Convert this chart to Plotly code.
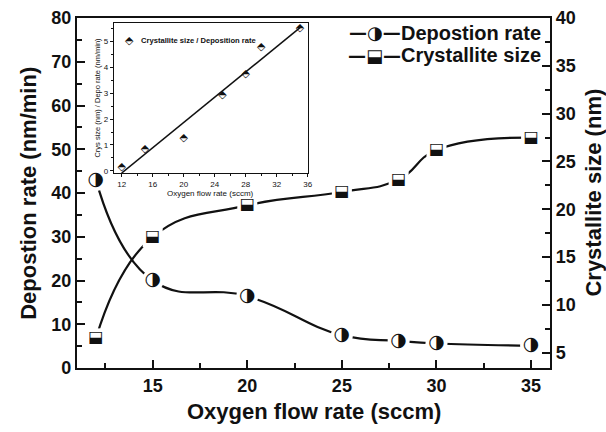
import numpy as np
import plotly.graph_objects as go

# ---- data ----
oxygen_flow = [12, 15, 20, 25, 28, 30, 35]
deposition_rate = [43.0, 20.0, 16.4, 7.5, 6.2, 5.6, 5.1]
crystallite_size = [6.5, 17.1, 20.4, 21.8, 23.1, 26.2, 27.5]
inset_ratio = [0.15, 0.85, 1.25, 2.9, 3.72, 4.78, 5.5]

x_ticks = [15, 20, 25, 30, 35]
inset_x_ticks = [12, 16, 20, 24, 28, 32, 36]

FONT = "Liberation Sans"
BLACK = "#111111"

fig = go.Figure()

fig.add_trace(go.Scatter(x=oxygen_flow, y=deposition_rate, mode="lines",
                         line=dict(color=BLACK, width=2.2, shape="spline", smoothing=1.3),
                         yaxis="y", xaxis="x", showlegend=False, hoverinfo="skip"))
fig.add_trace(go.Scatter(x=oxygen_flow, y=crystallite_size, mode="lines",
                         line=dict(color=BLACK, width=2.2, shape="spline", smoothing=1.3),
                         yaxis="y2", xaxis="x", showlegend=False, hoverinfo="skip"))
fig.add_trace(go.Scatter(x=oxygen_flow, y=deposition_rate, mode="markers",
                         marker=dict(symbol="circle", size=22, color="white"),
                         yaxis="y", xaxis="x", showlegend=False, hoverinfo="skip"))
fig.add_trace(go.Scatter(x=oxygen_flow, y=crystallite_size, mode="markers",
                         marker=dict(symbol="square", size=20, color="white"),
                         yaxis="y2", xaxis="x", showlegend=False, hoverinfo="skip"))
fig.add_trace(go.Scatter(x=oxygen_flow, y=deposition_rate, mode="text",
                         text=["\u25D1"] * len(oxygen_flow), textposition="middle center",
                         textfont=dict(family="DejaVu Sans", size=19, color=BLACK),
                         yaxis="y", xaxis="x", showlegend=False))
fig.add_trace(go.Scatter(x=oxygen_flow, y=crystallite_size, mode="text",
                         text=["\u2B13"] * len(oxygen_flow), textposition="middle center",
                         textfont=dict(family="DejaVu Sans", size=16, color=BLACK),
                         yaxis="y2", xaxis="x", showlegend=False))

# inset: linear fit and points
coef = np.polyfit(oxygen_flow, inset_ratio, 1)
fit_x = np.array([min(oxygen_flow), max(oxygen_flow)], dtype=float)
fit_y = np.polyval(coef, fit_x)
fig.add_trace(go.Scatter(x=fit_x, y=fit_y, mode="lines", line=dict(color=BLACK, width=1.5),
                         xaxis="x3", yaxis="y3", showlegend=False, hoverinfo="skip"))
fig.add_trace(go.Scatter(x=oxygen_flow, y=inset_ratio, mode="text",
                         text=["\u2B18"] * len(oxygen_flow), textposition="middle center",
                         textfont=dict(family="DejaVu Sans", size=11, color=BLACK),
                         xaxis="x3", yaxis="y3", showlegend=False))

tickfont = dict(family=FONT, size=18, color=BLACK, weight="bold")
titlefont = dict(family=FONT, size=22, color=BLACK, weight="bold")
small = dict(family=FONT, size=8, color=BLACK)

W, H = 606, 432
ml, mr, mt, mb = 77, 56, 18, 64

fig.update_layout(
    width=W, height=H, margin=dict(l=ml, r=mr, t=mt, b=mb, autoexpand=False),
    paper_bgcolor="white", plot_bgcolor="white",
    xaxis=dict(range=[11, 36], tickvals=x_ticks, ticks="inside", ticklen=8, tickwidth=2,
               tickcolor=BLACK, showline=True, linewidth=2.2, linecolor=BLACK, mirror=True,
               showgrid=False, zeroline=False, tickfont=tickfont, automargin=False,
               minor=dict(dtick=2.5, tick0=0, ticks="inside", ticklen=5, tickwidth=2, tickcolor=BLACK)),
    yaxis=dict(range=[0, 80], dtick=10, tick0=0, ticks="inside", ticklen=8, tickwidth=2,
               tickcolor=BLACK, showline=True, linewidth=2.2, linecolor=BLACK,
               showgrid=False, zeroline=False, tickfont=tickfont, automargin=False,
               minor=dict(dtick=5, tick0=0, ticks="inside", ticklen=5, tickwidth=2, tickcolor=BLACK)),
    yaxis2=dict(range=[3.4, 40], dtick=5, tick0=0, ticks="inside", ticklen=8, tickwidth=2,
                tickcolor=BLACK, showline=True, linewidth=2.2, linecolor=BLACK,
                overlaying="y", side="right", anchor="x", automargin=False,
                showgrid=False, zeroline=False, tickfont=tickfont,
                minor=dict(dtick=2.5, tick0=0, ticks="inside", ticklen=5, tickwidth=2, tickcolor=BLACK)),
    xaxis3=dict(domain=[0.078, 0.488], anchor="y3", range=[11, 36], tickvals=inset_x_ticks,
                ticks="outside", ticklen=3, tickwidth=1, tickcolor=BLACK, ticklabelstandoff=0,
                showline=True, linewidth=1.2, linecolor=BLACK, mirror=True,
                showgrid=False, zeroline=False, tickfont=small, automargin=False,
                minor=dict(dtick=2, tick0=0, ticks="outside", ticklen=2, tickwidth=1, tickcolor=BLACK)),
    yaxis3=dict(domain=[0.557, 0.986], anchor="x3", range=[-0.08, 5.7], dtick=1, tick0=0,
                ticks="outside", ticklen=3, tickwidth=1, tickcolor=BLACK,
                showline=True, linewidth=1.2, linecolor=BLACK, mirror=True,
                showgrid=False, zeroline=False, tickfont=small, automargin=False,
                minor=dict(dtick=0.5, tick0=0, ticks="outside", ticklen=2, tickwidth=1, tickcolor=BLACK),
                title=dict(text="Crys size (nm) / Depo rate (nm/min)", font=dict(family=FONT, size=7.5, color=BLACK), standoff=2)),
    showlegend=False,
)

# axis titles as annotations (fixed positions)
fig.add_annotation(xref="paper", yref="paper", x=0.5, y=-0.125, xanchor="center", yanchor="middle",
                   text="<b>Oxygen flow rate (sccm)</b>", showarrow=False, font=titlefont)
fig.add_annotation(xref="paper", yref="paper", x=-0.104, y=0.5, xanchor="center", yanchor="middle",
                   text="<b>Depostion rate (nm/min)</b>", showarrow=False, font=titlefont, textangle=-90)
fig.add_annotation(xref="paper", yref="paper", x=1.09, y=0.5, xanchor="center", yanchor="middle",
                   text="<b>Crystallite size (nm)</b>", showarrow=False, font=titlefont, textangle=-90)
fig.add_annotation(xref="x3 domain", yref="y3 domain", x=0.5, y=-0.135, xanchor="center", yanchor="middle",
                   text="Oxygen flow rate (sccm)", showarrow=False, borderpad=0,
                   font=dict(family=FONT, size=8, color=BLACK))

# white background behind inset
fig.add_shape(type="rect", xref="x3 domain", yref="y3 domain", x0=0, x1=1, y0=0, y1=1,
              fillcolor="white", line=dict(width=0), layer="below")

# inset legend
fig.add_annotation(xref="x3 domain", yref="y3 domain", x=0.08, y=0.88, xanchor="center", yanchor="middle",
                   text="\u2B18", showarrow=False, font=dict(family="DejaVu Sans", size=11, color=BLACK))
fig.add_annotation(xref="x3 domain", yref="y3 domain", x=0.13, y=0.88, xanchor="left", yanchor="middle",
                   text="<b>Crystallite size / Deposition rate</b>", showarrow=False,
                   font=dict(family=FONT, size=7.6, color=BLACK))

# main legend
leg_items = [("\u25D1", "Depostion rate", 0.958), ("\u2B13", "Crystallite size", 0.893)]
for glyph, label, yy in leg_items:
    fig.add_annotation(xref="paper", yref="paper", x=0.63, y=yy, xanchor="center", yanchor="middle",
                       text="<b>\u2014</b>" + glyph + "<b>\u2014</b>", showarrow=False,
                       font=dict(family="DejaVu Sans", size=18, color=BLACK))
    fig.add_annotation(xref="paper", yref="paper", x=0.68, y=yy, xanchor="left", yanchor="middle",
                       text="<b>" + label + "</b>", showarrow=False,
                       font=dict(family=FONT, size=20, color=BLACK))

fig.write_html("out.html")
